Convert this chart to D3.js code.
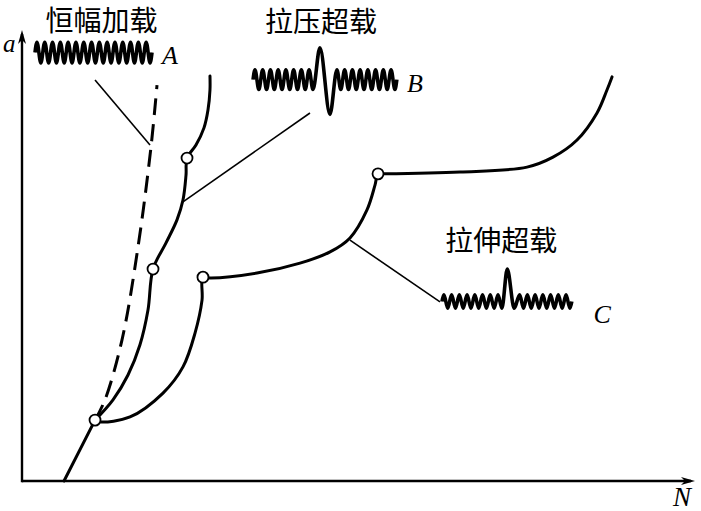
<!DOCTYPE html>
<html>
<head>
<meta charset="utf-8">
<script src="https://cdn.jsdelivr.net/npm/d3@7"></script>
<style>
  body { margin: 0; background: #fff; }
  svg { display: block; }
  .curve { fill: none; stroke: #000; stroke-width: 3; stroke-linecap: round; }
  .dashed { stroke-dasharray: 17 9; stroke-linecap: butt; }
  .leader { fill: none; stroke: #000; stroke-width: 1.6; }
  .wave { fill: none; stroke: #000; stroke-width: 3.6; stroke-linejoin: round; }
  .axis-line { stroke: #000; stroke-width: 2.4; }
  .node { fill: #fff; stroke: #000; stroke-width: 1.8; }
  .cjk { font-family: "Noto Sans CJK SC", sans-serif; font-size: 28px; fill: #000; }
  .sym { font-family: "Liberation Serif", "DejaVu Serif", serif; font-style: italic; fill: #000; }
</style>
</head>
<body>
<svg id="chart" width="701" height="511"></svg>
<script>
// crack length a against cycles N, schematic units (0..100 on each axis)
const baseCurve = [[6.24, 0], [10.85, 13.5]];

// A: constant amplitude loading (dashed)
const constAmpCurve = [[10.85, 13.5], [12.33, 18.0], [14.86, 31.3], [17.24, 51.9],
  [19.17, 74.1], [20.06, 87.8]];

// B: tension-compression overloads
const tcOverloadCurve = [[10.85, 13.5], [13.52, 18.0], [15.75, 23.5], [17.53, 30.2],
  [18.72, 37.9], [19.47, 47.0], [21.40, 52.8], [23.03, 57.9], [23.92, 62.3],
  [24.37, 67.8], [24.52, 71.6], [25.85, 74.5], [27.04, 78.3], [27.64, 82.3],
  [27.93, 86.7], [27.93, 89.8]];

// C: tension overloads
const tOverloadCurve = [[10.85, 13.5], [11.59, 13.1], [16.05, 14.2], [20.95, 19.5],
  [23.92, 25.3], [25.71, 32.8], [26.75, 40.1], [26.89, 45.2], [27.93, 45.0],
  [34.92, 46.1], [41.31, 48.3], [45.77, 50.8], [48.74, 53.9], [51.26, 60.1],
  [52.45, 65.6], [52.90, 68.1], [53.64, 68.1], [65.08, 68.5], [75.04, 69.6],
  [78.90, 71.8], [82.47, 75.6], [85.44, 81.6], [86.92, 86.7], [87.67, 89.6]];

// overload points (open circles)
const overloadPoints = [[10.85, 13.5], [19.47, 47.0], [24.52, 71.6], [26.89, 45.2], [52.90, 68.1]];

// leader lines from the curves to the load spectra
const leaderA = [[10.85, 88.9], [19.02, 74.5]];
const leaderB = [[23.92, 61.9], [42.79, 81.6]];
const leaderC = [[48.74, 53.4], [62.11, 39.7]];

// load spectra: per cycle peak / trough multipliers and relative cycle widths
const ones = n => new Array(n).fill(1);
const spectrumAUp = ones(15), spectrumADown = ones(15), spectrumAWidth = ones(15);
const spectrumBUp = [...ones(8), 3.2, ...ones(8)];
const spectrumBDown = [...ones(8), 3.5, ...ones(8)];
const spectrumBWidth = [...ones(8), 2.6, ...ones(8)];
const spectrumCUp = [...ones(8), 4.8, ...ones(7)];
const spectrumCDown = [...ones(8), 1, ...ones(7)];
const spectrumCWidth = [...ones(8), 1.8, ...ones(7)];

const labelTexts = ['恒幅加载', '拉压超载', '拉伸超载'];
const spectrumNames = ['A', 'B', 'C'];

const svg = d3.select('#chart');
const x = d3.scaleLinear().domain([0, 100]).range([22, 695]);
const y = d3.scaleLinear().domain([0, 100]).range([481, 30]);

// axes with arrow heads
const [x0, x1] = x.range();
const [y0, y1] = y.range();
svg.append('line').attr('class', 'axis-line')
  .attr('x1', x0).attr('y1', y0).attr('x2', x1 - 4).attr('y2', y0);
svg.append('line').attr('class', 'axis-line')
  .attr('x1', x0).attr('y1', y0 + 1.2).attr('x2', x0).attr('y2', y1 + 4);
svg.append('path')
  .attr('d', `M${x1},${y0} L${x1 - 14},${y0 - 4} L${x1 - 10},${y0} L${x1 - 14},${y0 + 4} Z`);
svg.append('path')
  .attr('d', `M${x0},${y1} L${x0 - 4},${y1 + 14} L${x0},${y1 + 10} L${x0 + 4},${y1 + 14} Z`);

svg.append('text').attr('class', 'sym').attr('font-size', 25)
  .attr('x', x0 - 19).attr('y', y1 + 22).text('a');
svg.append('text').attr('class', 'sym').attr('font-size', 27)
  .attr('x', x1 - 22).attr('y', y0 + 25).text('N');

const line = d3.line().x(d => x(d[0])).y(d => y(d[1])).curve(d3.curveCatmullRom.alpha(0.5));
const straight = d3.line().x(d => x(d[0])).y(d => y(d[1]));

[leaderA, leaderB, leaderC].forEach(l => {
  svg.append('path').attr('class', 'leader').attr('d', straight(l));
});

svg.append('path').attr('class', 'curve').attr('d', line(baseCurve));
svg.append('path').attr('class', 'curve dashed').attr('d', line(constAmpCurve));
svg.append('path').attr('class', 'curve').attr('d', line(tcOverloadCurve));
svg.append('path').attr('class', 'curve').attr('d', line(tOverloadCurve));

svg.selectAll('circle.node').data(overloadPoints).enter()
  .append('circle').attr('class', 'node')
  .attr('cx', d => x(d[0])).attr('cy', d => y(d[1])).attr('r', 5.5);

// load spectrum glyphs; position in chart units, amplitude in a-units
function spectrum(n0, n1, aMid, amp, ups, downs, widths) {
  const total = d3.sum(widths);
  const unit = (n1 - n0) / total;
  const pts = [[n0, aMid]];
  let s = n0;
  widths.forEach((w, i) => {
    pts.push([s + 0.25 * w * unit, aMid + amp * ups[i]]);
    pts.push([s + 0.75 * w * unit, aMid - amp * downs[i]]);
    s += w * unit;
  });
  pts.push([n1, aMid]);
  return pts;
}
const waveLine = d3.line().x(d => x(d[0])).y(d => y(d[1])).curve(d3.curveMonotoneX);

const waves = [
  spectrum(1.93, 19.32, 95.0, 2.3, spectrumAUp, spectrumADown, spectrumAWidth),
  spectrum(34.33, 55.7, 89.0, 2.2, spectrumBUp, spectrumBDown, spectrumBWidth),
  spectrum(62.4, 81.7, 39.8, 1.5, spectrumCUp, spectrumCDown, spectrumCWidth)
];
svg.selectAll('path.wave').data(waves).enter()
  .append('path').attr('class', 'wave').attr('d', waveLine);

// spectrum names next to the glyphs
const nameAnchors = [[20.8, 92.5], [57.2, 86.3], [84.9, 35.0]];
svg.selectAll('text.name').data(spectrumNames).enter()
  .append('text').attr('class', 'sym name').attr('font-size', 26)
  .attr('x', (d, i) => x(nameAnchors[i][0]))
  .attr('y', (d, i) => y(nameAnchors[i][1]))
  .text(d => d);

// titles above the glyphs
const labelAnchors = [[3.5, 99.8], [36.1, 99.6], [62.9, 51.0]];
svg.selectAll('text.cjk').data(labelTexts).enter()
  .append('text').attr('class', 'cjk')
  .attr('x', (d, i) => x(labelAnchors[i][0]))
  .attr('y', (d, i) => y(labelAnchors[i][1]))
  .text(d => d);
</script>
</body>
</html>
